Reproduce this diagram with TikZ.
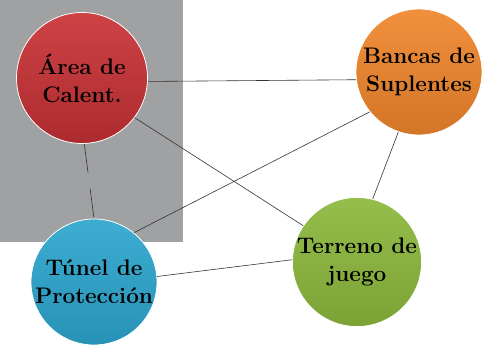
\documentclass[tikz,border=0pt]{standalone}
\usepackage{tikz}
\usetikzlibrary{shapes,arrows,positioning}

\definecolor{areagray}{RGB}{160,161,163}
\definecolor{calentred}{RGB}{202,50,54}
\definecolor{bancaorange}{RGB}{240,134,44}
\definecolor{terrenogreen}{RGB}{140,184,60}
\definecolor{tunelcyan}{RGB}{44,166,206}

\tikzset{
  zona/.style={circle,minimum size=126pt,inner sep=0pt,draw=white,line width=0.8pt,
    align=center,font=\fontsize{22.5}{28}\selectfont\bfseries},
  enlace/.style={draw=black!80,line width=0.6pt}
}

\begin{document}
\begin{tikzpicture}[x=1pt,y=-1pt]
\useasboundingbox (0,0) rectangle (487,348);
\fill[areagray] (0,0) rectangle (183,242);
\node[zona,minimum size=131pt,top color=calentred!92!white,bottom color=calentred!85!black] (calent) at (82,78) {Área de\\Calent.};
\node[zona,top color=bancaorange!92!white,bottom color=bancaorange!88!black] (bancas) at (419,72) {Bancas de\\Suplentes};
\node[zona,top color=terrenogreen!92!white,bottom color=terrenogreen!88!black] (terreno) at (357,262) {Terreno de\\juego};
\node[zona,top color=tunelcyan!92!white,bottom color=tunelcyan!88!black] (tunel) at (94,282) {Túnel de\\Protección};
\draw[enlace] (calent.-3) -- (bancas.187);
\draw[enlace] (calent.-37) -- (terreno.146);
\draw[enlace,dash pattern=on 29pt off 16pt] (calent.-88) -- (tunel.90);
\draw[enlace] (tunel.51) -- (bancas.219);
\draw[enlace] (tunel.5) -- (terreno.178);
\draw[enlace] (bancas.-109) -- (terreno.76);
\end{tikzpicture}
\end{document}
